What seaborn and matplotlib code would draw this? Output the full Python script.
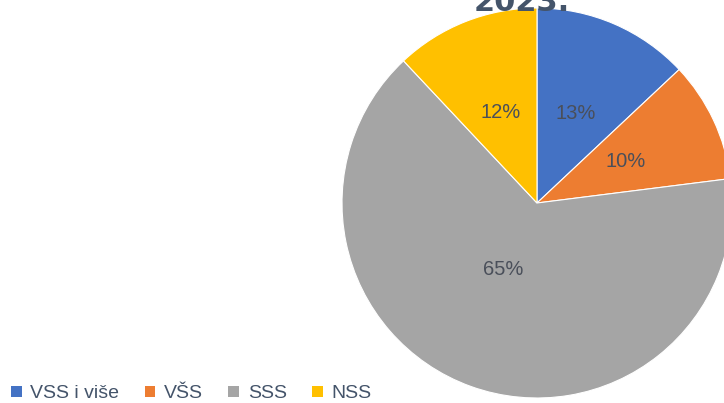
import numpy as np
import matplotlib
matplotlib.use("Agg")
import matplotlib.pyplot as plt
import seaborn as sns
from matplotlib.patches import Patch

# ==== data ====
categories = ['VSS i više', 'VŠS', 'SSS', 'NSS']
shares = [13, 10, 65, 12]
colors = ['#4472C4', '#ED7D31', '#A5A5A5', '#FFC000']
title = '2023.'

sns.set_theme(style='white')
plt.rcParams['font.family'] = ['Liberation Sans', 'DejaVu Sans']

W, H = 724, 403
fig = plt.figure(figsize=(W / 100, H / 100), dpi=100)
ax = fig.add_axes([0, 0, 1, 1])

pal = sns.color_palette(colors)
wedges, texts, autotexts = ax.pie(
    shares, colors=pal, startangle=90, counterclock=False,
    center=(537, 200), radius=195,
    autopct='%1.0f%%', pctdistance=0.5,
    wedgeprops=dict(edgecolor='white', linewidth=0.8),
    textprops=dict(color='#4a4f5a', fontsize=14.5),
)

# big slice label sits closer to the centre (Excel best fit)
for w, t, v in zip(wedges, autotexts, shares):
    if v == max(shares):
        ang = np.deg2rad((w.theta1 + w.theta2) / 2 - 7)
        t.set_position((537 + 0.38 * 195 * np.cos(ang), 200 + 0.38 * 195 * np.sin(ang)))

ax.set_xlim(0, W)
ax.set_ylim(0, H)
ax.set_aspect('equal')
ax.axis('off')

ax.text(522, 392, title, ha='center', va='baseline', fontsize=22,
        fontweight='bold', color='#44546A', family=['DejaVu Sans'])

handles = [Patch(facecolor=c, edgecolor='none') for c in pal]
fig.legend(handles, categories, loc='center left', bbox_to_anchor=(11 / W, 9 / H),
           ncol=4, frameon=False, fontsize=14, handlelength=0.55, handleheight=0.55,
           handletextpad=0.45, columnspacing=1.3, borderpad=0, borderaxespad=0,
           labelcolor='#44546A')

fig.savefig('out.png', dpi=100)
